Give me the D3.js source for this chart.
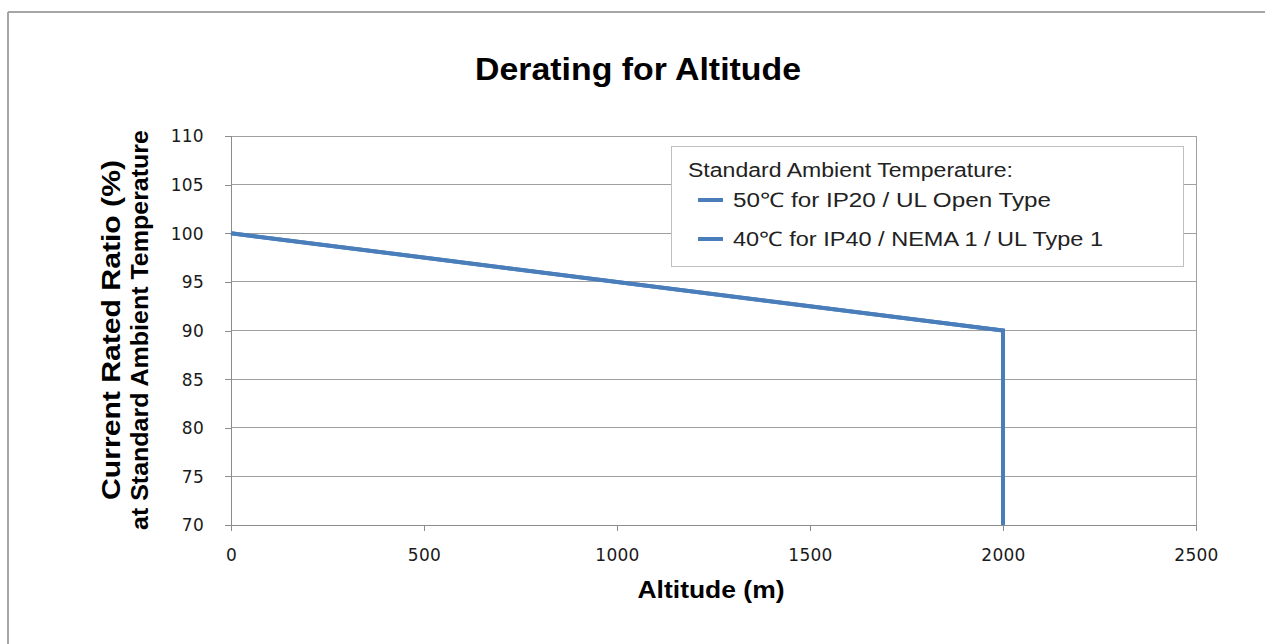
<!DOCTYPE html>
<html><head><meta charset="utf-8">
<script src="https://cdn.jsdelivr.net/npm/d3@7"></script>
<style>body{margin:0;background:#fff;}svg{display:block;}</style>
</head><body>
<svg id="c" width="1265" height="644"></svg>
<script>
const altitude = [0, 2000, 2000];
const ratio50 = [100, 90, 70];
const ratio40 = [100, 90, 70];
const seriesNames = ["50\u2103 for IP20  / UL  Open  Type", "40\u2103 for IP40  / NEMA 1 / UL Type  1"];
const xTicks = [0, 500, 1000, 1500, 2000, 2500];
const yTicks = [70, 75, 80, 85, 90, 95, 100, 105, 110];
const title = "Derating for Altitude";
const xTitle = "Altitude (m)";
const yTitle = ["Current Rated Ratio (%)", "at Standard Ambient  Temperature"];
const legendTitle = "Standard  Ambient  Temperature:";

const svg = d3.select("#c");
const color = "#4a7ebb";
const bold = "'Liberation Sans', Arial, sans-serif";
const sans = "'DejaVu Sans', Verdana, sans-serif";

// outer frame (top and left only visible)
svg.append("line").attr("x1", 8).attr("x2", 1265).attr("y1", 12).attr("y2", 12).attr("stroke", "#a6a6a6").attr("stroke-width", 2);
svg.append("line").attr("x1", 8).attr("x2", 8).attr("y1", 12).attr("y2", 644).attr("stroke", "#a6a6a6").attr("stroke-width", 2);

const x = d3.scaleLinear().domain([0, 2500]).range([231, 1196]);
const y = d3.scaleLinear().domain([70, 110]).range([525, 136]);

// gridlines
svg.append("g").selectAll("line").data(yTicks.filter(d => d > 70)).join("line")
  .attr("x1", x(0)).attr("x2", x(2500)).attr("y1", d => y(d)).attr("y2", d => y(d))
  .attr("stroke", "#a0a0a0").attr("stroke-width", 1).attr("shape-rendering", "crispEdges");
svg.append("line").attr("x1", x(2500)).attr("x2", x(2500)).attr("y1", y(110)).attr("y2", y(70))
  .attr("stroke", "#a0a0a0").attr("shape-rendering", "crispEdges");

// axes
const yAxis = svg.append("g").attr("transform", `translate(${x(0)},0)`)
  .call(d3.axisLeft(y).tickValues(yTicks).tickSize(6).tickPadding(21));
const xAxis = svg.append("g").attr("transform", `translate(0,${y(70)})`)
  .call(d3.axisBottom(x).tickValues(xTicks).tickFormat(d3.format("d")).tickSize(6).tickPadding(21));
[yAxis, xAxis].forEach(a => {
  a.select(".domain").attr("stroke", "#8c8c8c").attr("shape-rendering", "crispEdges");
  a.selectAll(".tick line").attr("stroke", "#8c8c8c").attr("shape-rendering", "crispEdges");
  a.selectAll("text").attr("fill", "#1a1a1a").attr("font-size", 17).attr("font-family", sans)
    .attr("letter-spacing", "0.3px");
});
yAxis.selectAll("text").attr("dy", "0.35em");
xAxis.selectAll("text").attr("dy", "0.5em");

// lines
const pts = s => altitude.map((a, i) => [x(a), y(s[i])]);
const line = d3.line();
[ratio40, ratio50].forEach(s => {
  svg.append("path").attr("d", line(pts(s))).attr("fill", "none")
    .attr("stroke", color).attr("stroke-width", 4).attr("stroke-linejoin", "miter");
});

// title
svg.append("text").attr("x", 638).attr("y", 80).attr("text-anchor", "middle")
  .attr("font-family", bold).attr("font-weight", "bold").attr("font-size", 32).attr("fill", "#000")
  .attr("textLength", 326).attr("lengthAdjust", "spacingAndGlyphs")
  .text(title);

// x title
svg.append("text").attr("x", 711).attr("y", 598).attr("text-anchor", "middle")
  .attr("font-family", bold).attr("font-weight", "bold").attr("font-size", 23).attr("fill", "#000")
  .attr("textLength", 147).attr("lengthAdjust", "spacingAndGlyphs")
  .text(xTitle);

// y title
const yLens = [340, 400];
const ySizes = [25, 24];
yTitle.forEach((t, i) => {
  svg.append("text").attr("transform", `translate(${120 + i * 28},330) rotate(-90)`)
    .attr("text-anchor", "middle")
    .attr("font-family", bold).attr("font-weight", "bold").attr("font-size", ySizes[i]).attr("fill", "#000")
    .attr("textLength", yLens[i]).attr("lengthAdjust", "spacingAndGlyphs")
    .text(t);
});

// legend
const lg = svg.append("g");
lg.append("rect").attr("x", 671.5).attr("y", 146.5).attr("width", 512).attr("height", 120)
  .attr("fill", "#fff").attr("stroke", "#bfbfbf").attr("stroke-width", 1);
lg.append("text").attr("x", 688).attr("y", 177).attr("font-family", bold).attr("font-size", 20).attr("fill", "#222")
  .attr("textLength", 325).attr("lengthAdjust", "spacingAndGlyphs")
  .text(legendTitle);
const legLens = [318, 370];
seriesNames.forEach((n, i) => {
  const yy = 200 + i * 39;
  lg.append("line").attr("x1", 698).attr("x2", 723).attr("y1", yy).attr("y2", yy)
    .attr("stroke", color).attr("stroke-width", 4);
  lg.append("text").attr("x", 733).attr("y", yy + 7).attr("font-family", bold).attr("font-size", 20).attr("fill", "#222")
    .attr("textLength", legLens[i]).attr("lengthAdjust", "spacingAndGlyphs")
    .text(n);
});
</script>
</body></html>
